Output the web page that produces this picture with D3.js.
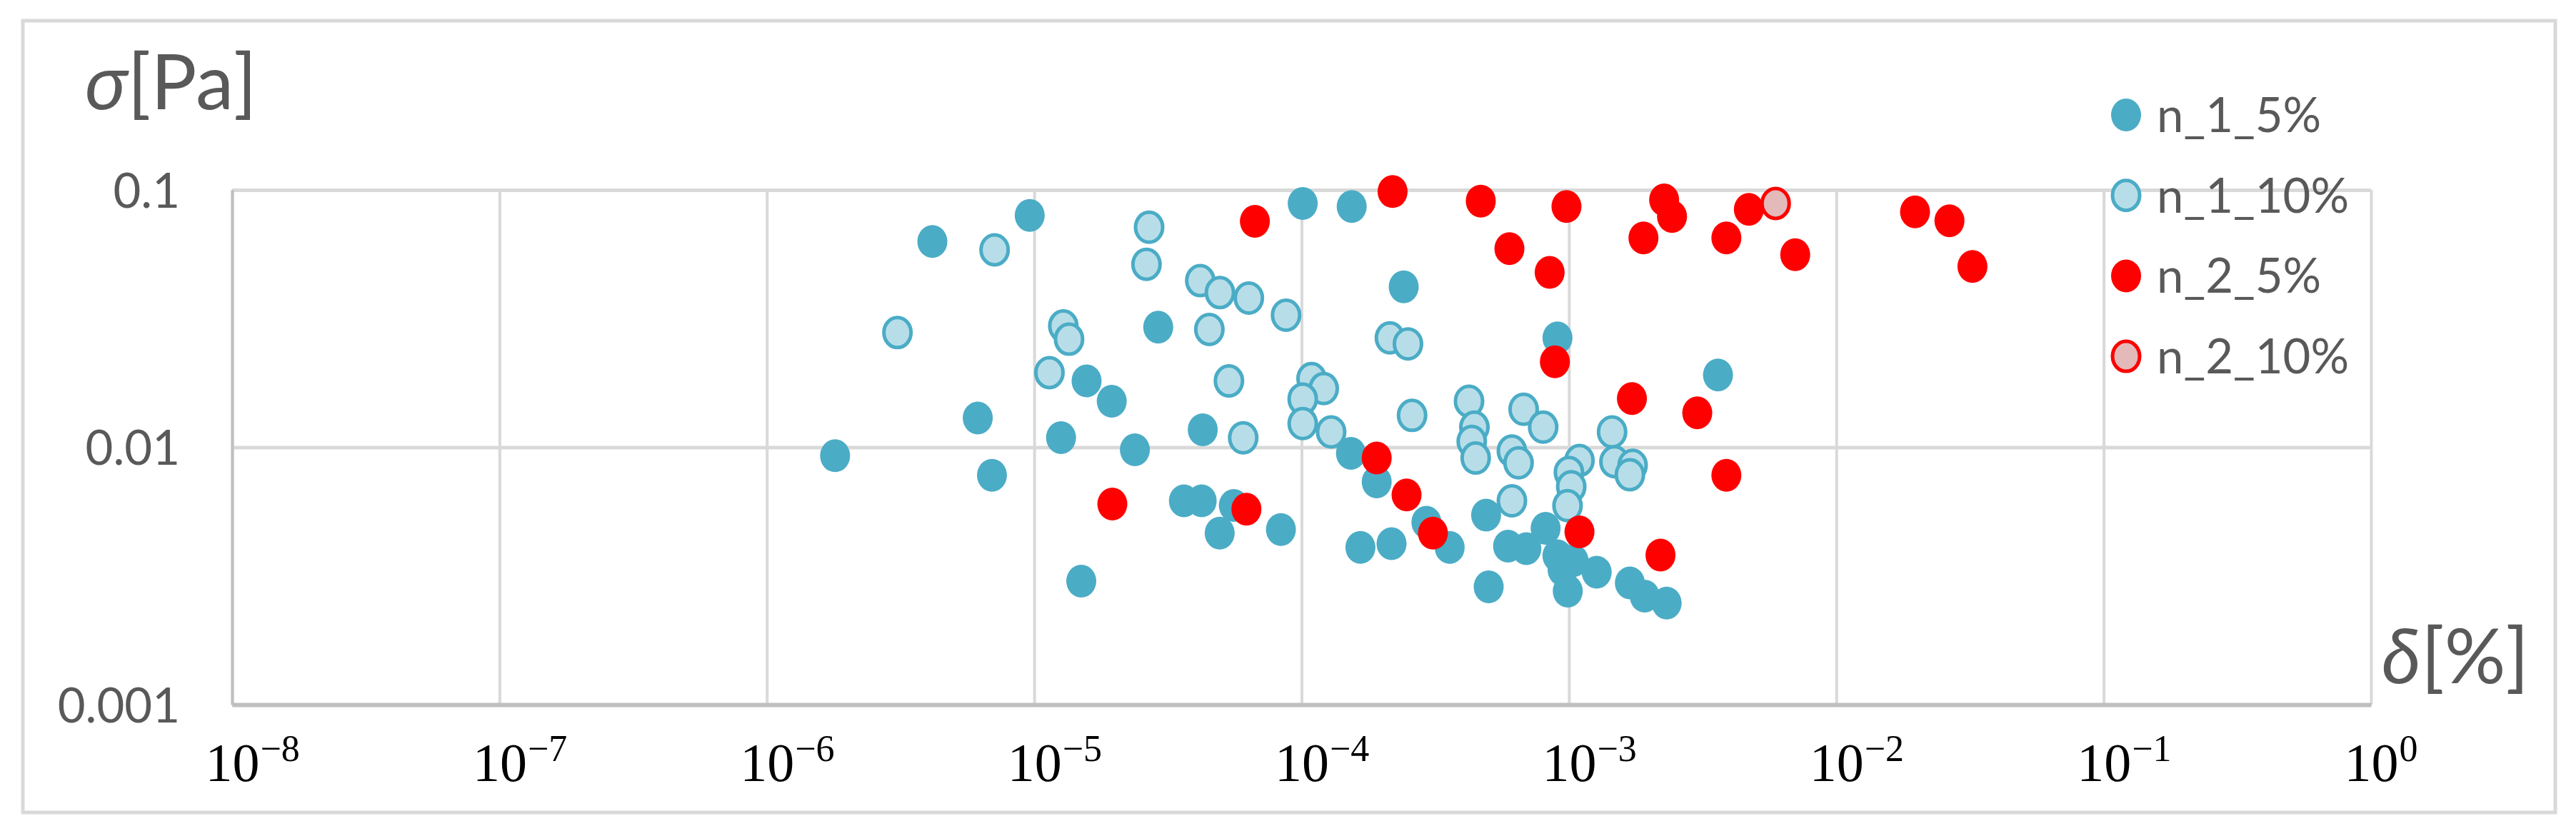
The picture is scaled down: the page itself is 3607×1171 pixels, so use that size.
<!DOCTYPE html>
<html>
<head>
<meta charset="utf-8">
<script src="https://cdn.jsdelivr.net/npm/d3@7"></script>
<style>
  body { margin: 0; background: #fff; }
  text { font-family: Lato, "Open Sans", sans-serif; }
</style>
</head>
<body>
<div id="chart"></div>
<script>
// Series values: delta [%] and sigma [Pa]
var n1_5_delta = [4.16e-6, 9.62e-6, 2.91e-5, 1.57e-5, 1.95e-5, 6.15e-6, 1.80e-6, 6.95e-6, 1.26e-5, 2.38e-5,
    3.63e-5, 4.23e-5, 4.27e-5, 4.94e-5, 5.58e-5, 8.37e-5, 1.50e-5, 1.01e-4, 1.54e-4, 2.41e-4,
    1.53e-4, 1.91e-4, 2.93e-4, 3.58e-4, 1.66e-4, 2.17e-4, 5.01e-4, 4.90e-4, 5.92e-4, 6.93e-4,
    8.18e-4, 9.06e-4, 9.47e-4, 9.9e-4, 1.04e-3, 1.27e-3, 1.69e-3, 1.92e-3, 2.32e-3, 9.06e-4, 3.61e-3];
var n1_5_sigma = [0.0630, 0.0796, 0.0293, 0.0181, 0.0151, 0.0130, 0.00927, 0.00778, 0.0109, 0.00978,
    0.00619, 0.00619, 0.0117, 0.00464, 0.00594, 0.00479, 0.00302, 0.0886, 0.0862, 0.0420,
    0.00947, 0.00734, 0.00511, 0.00408, 0.00408, 0.00422, 0.00287, 0.00545, 0.00413, 0.00404,
    0.00484, 0.00379, 0.00334, 0.00276, 0.00363, 0.00327, 0.00297, 0.00264, 0.00248, 0.0266, 0.0191];

var n1_10_delta = [3.08e-6, 7.11e-6, 2.69e-5, 2.63e-5, 1.285e-5, 1.35e-5, 1.14e-5, 4.18e-5, 4.95e-5, 6.35e-5,
    8.75e-5, 4.52e-5, 2.14e-4, 2.50e-4, 5.35e-5, 1.09e-4, 1.21e-4, 1.01e-4, 1.01e-4, 1.29e-4,
    6.05e-5, 2.59e-4, 4.23e-4, 4.43e-4, 4.33e-4, 4.48e-4, 6.77e-4, 8.01e-4, 6.12e-4, 6.48e-4,
    6.12e-4, 1.095e-3, 1.00e-3, 1.02e-3, 9.88e-4, 1.45e-3, 1.48e-3, 1.73e-3, 1.69e-3];
var n1_10_sigma = [0.0279, 0.0585, 0.0716, 0.0514, 0.0296, 0.0263, 0.0195, 0.0444, 0.0399, 0.0380,
    0.0326, 0.0287, 0.0266, 0.0252, 0.0181, 0.0185, 0.0169, 0.0154, 0.01236, 0.01147,
    0.01088, 0.0133, 0.0151, 0.01197, 0.01054, 0.00908, 0.01405, 0.01197, 0.00967, 0.00870,
    0.00619, 0.00889, 0.00799, 0.00703, 0.00593, 0.01147, 0.00879, 0.00851, 0.00782];

var n2_5_delta = [1.96e-5, 6.22e-5, 6.69e-5, 2.19e-4, 4.68e-4, 9.79e-4, 5.99e-4, 8.47e-4, 8.86e-4, 1.91e-4,
    2.47e-4, 3.10e-4, 1.095e-3, 1.72e-3, 3.02e-3, 3.88e-3, 2.20e-3, 2.27e-3, 2.43e-3, 1.90e-3,
    3.88e-3, 4.71e-3, 7.02e-3, 1.97e-2, 2.65e-2, 3.23e-2];
var n2_5_sigma = [0.00602, 0.00575, 0.0755, 0.0985, 0.0905, 0.0862, 0.0591, 0.0478, 0.0215, 0.00908,
    0.00653, 0.00464, 0.00469, 0.01546, 0.0136, 0.00778, 0.00381, 0.0915, 0.0788, 0.0651,
    0.0651, 0.0840, 0.0560, 0.0822, 0.0759, 0.0504];

var n2_10_delta = [5.93e-3];
var n2_10_sigma = [0.0886];

var seriesNames = ["n_1_5%", "n_1_10%", "n_2_5%", "n_2_10%"];
var xTicks = [1e-8, 1e-7, 1e-6, 1e-5, 1e-4, 1e-3, 1e-2, 1e-1, 1];
var xTickExp = ["−8", "−7", "−6", "−5", "−4", "−3", "−2", "−1", "0"];
var yTicks = [0.001, 0.01, 0.1];
var yTickLabels = ["0.001", "0.01", "0.1"];

// marker styles per series
var styles = [
    {fill: "#4bacc6", stroke: "none", sw: 0},
    {fill: "#b7dee8", stroke: "#4bacc6", sw: 5},
    {fill: "#ff0000", stroke: "none", sw: 0},
    {fill: "#e3b9b9", stroke: "#ff0000", sw: 5}
];

function zip(ds, ss) {
    return ds.map(function (d, i) { return {d: d, s: ss[i]}; });
}
var series = [
    zip(n1_5_delta, n1_5_sigma),
    zip(n1_10_delta, n1_10_sigma),
    zip(n2_5_delta, n2_5_sigma),
    zip(n2_10_delta, n2_10_sigma)
];

var W = 3607, H = 1171;
var margin = {left: 325, right: 287, top: 266, bottom: 184};
var plotW = W - margin.left - margin.right,
    plotH = H - margin.top - margin.bottom;

var svg = d3.select("#chart").append("svg")
    .attr("width", W)
    .attr("height", H);

// outer chart border
svg.append("rect")
    .attr("x", 32).attr("y", 29)
    .attr("width", 3546).attr("height", 1109)
    .attr("fill", "none")
    .attr("stroke", "#d9d9d9")
    .attr("stroke-width", 5);

var g = svg.append("g")
    .attr("transform", "translate(" + margin.left + "," + margin.top + ")");

var x = d3.scaleLog().domain([1e-8, 1]).range([0, plotW]);
var y = d3.scaleLog().domain([0.001, 0.1]).range([plotH, 0]);

// vertical gridlines
g.append("g")
    .attr("transform", "translate(0," + plotH + ")")
    .call(d3.axisBottom(x).tickValues(xTicks).tickSize(-plotH).tickFormat(""))
    .call(function (a) { a.select(".domain").remove(); })
    .selectAll("line")
    .attr("stroke", "#d9d9d9")
    .attr("stroke-width", 4);

// horizontal gridlines
g.append("g")
    .call(d3.axisLeft(y).tickValues(yTicks).tickSize(-plotW).tickFormat(""))
    .call(function (a) { a.select(".domain").remove(); })
    .selectAll("line")
    .attr("stroke", "#d9d9d9")
    .attr("stroke-width", 5);

// y axis line + labels
var yAxis = g.append("g")
    .call(d3.axisLeft(y).tickValues(yTicks).tickSizeOuter(0).tickSize(0).tickPadding(73)
        .tickFormat(function (d, i) { return yTickLabels[i]; }));
yAxis.select(".domain").attr("stroke", "#bfbfbf").attr("stroke-width", 4);
yAxis.selectAll("text")
    .attr("dy", "0.36em")
    .style("font-size", "67px")
    .style("font-family", "Lato, 'Open Sans', sans-serif")
    .attr("fill", "#595959");

// x axis line + power-of-ten labels
var xAxis = g.append("g")
    .attr("transform", "translate(0," + plotH + ")")
    .call(d3.axisBottom(x).tickValues(xTicks).tickSizeOuter(0).tickSize(0).tickFormat(""));
xAxis.select(".domain").attr("stroke", "#bfbfbf").attr("stroke-width", 6);
xAxis.selectAll(".tick").each(function (d, i) {
    var t = d3.select(this);
    var base = t.append("text")
        .attr("y", 107)
        .attr("text-anchor", "middle")
        .attr("fill", "#000")
        .style("font-family", "'Liberation Serif', 'DejaVu Serif', serif")
        .style("font-size", "76px")
        .text("10");
    var half = base.node().getComputedTextLength() / 2;
    t.append("text")
        .attr("x", half + 1)
        .attr("y", 79)
        .attr("text-anchor", "start")
        .attr("fill", "#000")
        .style("font-family", "'Liberation Serif', 'DejaVu Serif', serif")
        .style("font-size", "52px")
        .text(xTickExp[i]);
});

// points, drawn series by series
series.forEach(function (data, k) {
    var st = styles[k];
    var rx = st.sw ? 19 : 21, ry = st.sw ? 21 : 23;
    g.append("g").selectAll("ellipse")
        .data(data)
        .enter()
        .append("ellipse")
        .attr("cx", function (p) { return x(p.d); })
        .attr("cy", function (p) { return y(p.s); })
        .attr("rx", rx)
        .attr("ry", ry)
        .attr("fill", st.fill)
        .attr("stroke", st.stroke)
        .attr("stroke-width", st.sw);
});

// axis titles
var yTitle = svg.append("text")
    .attr("x", 119).attr("y", 153)
    .attr("fill", "#595959")
    .style("font-size", "107px");
yTitle.append("tspan").style("font-style", "italic").text("σ");
yTitle.append("tspan").text("[Pa]");

var xTitle = svg.append("text")
    .attr("x", 3335).attr("y", 957)
    .attr("fill", "#595959")
    .style("font-size", "107px");
xTitle.append("tspan").style("font-style", "italic").text("δ");
xTitle.append("tspan").text("[%]");

// legend
var legend = svg.append("g");
seriesNames.forEach(function (name, i) {
    var st = styles[i];
    var cy = 161 + i * 112.7;
    legend.append("ellipse")
        .attr("cx", 2977).attr("cy", cy)
        .attr("rx", st.sw ? 19 : 21).attr("ry", st.sw ? 21 : 23)
        .attr("fill", st.fill)
        .attr("stroke", st.stroke)
        .attr("stroke-width", st.sw);
    legend.append("text")
        .attr("x", 3020).attr("y", cy + 24)
        .attr("fill", "#595959")
        .style("font-size", "67px")
        .text(name);
});
</script>
</body>
</html>
